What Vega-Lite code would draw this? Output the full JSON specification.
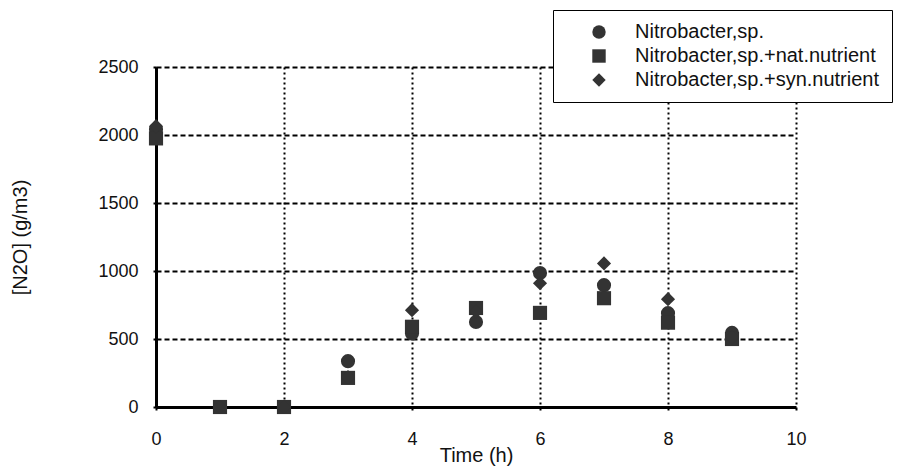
{
  "$schema": "https://vega.github.io/schema/vega-lite/v6.json",
  "width": 640,
  "height": 340,
  "autosize": "none",
  "padding": {"left": 156, "top": 67, "right": 104, "bottom": 61},
  "background": "white",
  "config": {
    "font": "Liberation Sans",
    "view": {"stroke": null}
  },
  "data": {
    "values": [
      {"t": 0, "v": 2040, "s": "Nitrobacter,sp."},
      {"t": 1, "v": 0, "s": "Nitrobacter,sp."},
      {"t": 2, "v": 0, "s": "Nitrobacter,sp."},
      {"t": 3, "v": 337, "s": "Nitrobacter,sp."},
      {"t": 4, "v": 540, "s": "Nitrobacter,sp."},
      {"t": 5, "v": 625, "s": "Nitrobacter,sp."},
      {"t": 6, "v": 985, "s": "Nitrobacter,sp."},
      {"t": 7, "v": 896, "s": "Nitrobacter,sp."},
      {"t": 8, "v": 690, "s": "Nitrobacter,sp."},
      {"t": 9, "v": 545, "s": "Nitrobacter,sp."},
      {"t": 0, "v": 1975, "s": "Nitrobacter,sp.+nat.nutrient"},
      {"t": 1, "v": 0, "s": "Nitrobacter,sp.+nat.nutrient"},
      {"t": 2, "v": 0, "s": "Nitrobacter,sp.+nat.nutrient"},
      {"t": 3, "v": 214, "s": "Nitrobacter,sp.+nat.nutrient"},
      {"t": 4, "v": 590, "s": "Nitrobacter,sp.+nat.nutrient"},
      {"t": 5, "v": 728, "s": "Nitrobacter,sp.+nat.nutrient"},
      {"t": 6, "v": 692, "s": "Nitrobacter,sp.+nat.nutrient"},
      {"t": 7, "v": 800, "s": "Nitrobacter,sp.+nat.nutrient"},
      {"t": 8, "v": 620, "s": "Nitrobacter,sp.+nat.nutrient"},
      {"t": 9, "v": 500, "s": "Nitrobacter,sp.+nat.nutrient"},
      {"t": 0, "v": 2065, "s": "Nitrobacter,sp.+syn.nutrient"},
      {"t": 1, "v": 0, "s": "Nitrobacter,sp.+syn.nutrient"},
      {"t": 2, "v": 0, "s": "Nitrobacter,sp.+syn.nutrient"},
      {"t": 3, "v": 220, "s": "Nitrobacter,sp.+syn.nutrient"},
      {"t": 4, "v": 712, "s": "Nitrobacter,sp.+syn.nutrient"},
      {"t": 5, "v": 700, "s": "Nitrobacter,sp.+syn.nutrient"},
      {"t": 6, "v": 910, "s": "Nitrobacter,sp.+syn.nutrient"},
      {"t": 7, "v": 1056, "s": "Nitrobacter,sp.+syn.nutrient"},
      {"t": 8, "v": 793, "s": "Nitrobacter,sp.+syn.nutrient"},
      {"t": 9, "v": 510, "s": "Nitrobacter,sp.+syn.nutrient"}
    ]
  },
  "mark": {"type": "point", "filled": true, "color": "#333333", "opacity": 1, "size": 200},
  "encoding": {
    "x": {
      "field": "t", "type": "quantitative", "title": "Time (h)",
      "scale": {"domain": [0, 10], "nice": false, "zero": true},
      "axis": {
        "values": [0, 2, 4, 6, 8, 10], "format": "d", "labelFlush": false,
        "domainColor": "#000", "domainWidth": 3,
        "tickColor": "#000", "tickSize": 3, "tickWidth": 2,
        "labelFontSize": 18, "labelColor": "#111", "labelPadding": 20,
        "titleFontSize": 20, "titleColor": "#111", "titleFontWeight": "normal", "titleY": 38,
        "grid": true, "gridColor": "#000", "gridDash": [2, 3], "gridWidth": 2
      }
    },
    "y": {
      "field": "v", "type": "quantitative", "title": "[N2O] (g/m3)",
      "scale": {"domain": [0, 2500], "nice": false},
      "axis": {
        "values": [0, 500, 1000, 1500, 2000, 2500], "format": "d",
        "domainColor": "#000", "domainWidth": 3,
        "tickColor": "#000", "tickSize": 3, "tickWidth": 2,
        "labelFontSize": 18, "labelColor": "#111", "labelPadding": 15,
        "titleFontSize": 20, "titleColor": "#111", "titleFontWeight": "normal",
        "titleX": -126,
        "grid": true, "gridColor": "#000", "gridDash": [5, 3], "gridWidth": 2
      }
    },
    "shape": {
      "field": "s", "type": "nominal", "title": null,
      "scale": {
        "domain": ["Nitrobacter,sp.", "Nitrobacter,sp.+nat.nutrient", "Nitrobacter,sp.+syn.nutrient"],
        "range": ["circle", "square", "diamond"]
      },
      "legend": {
        "orient": "none", "legendX": 397, "legendY": -57,
        "fillColor": "white", "strokeColor": "#000",
        "padding": 12, "symbolOffset": 24,
        "symbolFillColor": "#222", "symbolStrokeColor": "#222", "symbolSize": 180,
        "labelFontSize": 20, "labelColor": "#111", "labelOffset": 26, "labelLimit": 0,
        "rowPadding": 4,
        "encode": {"legend": {"update": {"strokeWidth": {"value": 2}}}}
      }
    }
  }
}
